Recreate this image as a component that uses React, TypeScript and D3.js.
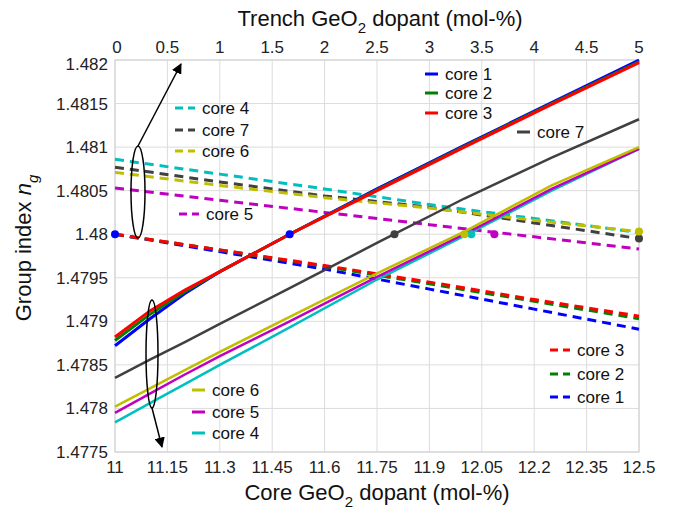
import React from "react";
import * as d3 from "d3";

const W = 676;
const H = 513;

const coreTicks = [11, 11.15, 11.3, 11.45, 11.6, 11.75, 11.9, 12.05, 12.2, 12.35, 12.5];
const trenchTicks = [0, 0.5, 1, 1.5, 2, 2.5, 3, 3.5, 4, 4.5, 5];
const yTicks = [1.4775, 1.478, 1.4785, 1.479, 1.4795, 1.48, 1.4805, 1.481, 1.4815, 1.482];

// solid curves: group index vs core GeO2
const coreX = [11, 11.1, 11.2, 11.3, 11.5, 11.75, 12, 12.25, 12.5];
const core1 = [1.47872, 1.47903, 1.47932, 1.47957, 1.48, 1.48052, 1.48102, 1.48151, 1.482];
const core2 = [1.47878, 1.47908, 1.47934, 1.47957, 1.48, 1.48051, 1.48101, 1.4815, 1.48198];
const core3 = [1.47882, 1.47912, 1.47936, 1.47957, 1.48, 1.4805, 1.481, 1.48149, 1.48197];
const core7 = [1.47835, 1.47856, 1.47876, 1.47897, 1.47938, 1.4799, 1.48041, 1.48088, 1.48132];
const core6 = [1.47802, 1.47823, 1.47844, 1.47865, 1.47905, 1.47955, 1.48003, 1.48056, 1.481];
const core5 = [1.47795, 1.47817, 1.47839, 1.4786, 1.479, 1.47951, 1.48, 1.48052, 1.48098];
const core4 = [1.47784, 1.47806, 1.47828, 1.4785, 1.47893, 1.47948, 1.47998, 1.4805, 1.48098];

// dashed curves: group index vs trench GeO2
const trenchX = [0, 1, 2, 3, 4, 5];
const trench4 = [1.48086, 1.48069, 1.48052, 1.48034, 1.48018, 1.48002];
const trench7 = [1.48077, 1.4806, 1.48044, 1.48031, 1.48013, 1.47995];
const trench6 = [1.48071, 1.48056, 1.48042, 1.4803, 1.48016, 1.48003];
const trench5 = [1.48053, 1.48039, 1.48025, 1.48011, 1.47997, 1.47983];
const trench3 = [1.48, 1.47982, 1.47964, 1.47945, 1.47925, 1.47906];
const trench2 = [1.48, 1.47982, 1.47963, 1.47943, 1.47923, 1.47903];
const trench1 = [1.48, 1.4798, 1.4796, 1.47937, 1.47914, 1.47891];

const C = {
  c1: "#0000ff",
  c2: "#008000",
  c3: "#ff0000",
  c4: "#00bfbf",
  c5: "#bf00bf",
  c6: "#bfbf00",
  c7: "#404040",
};

const solidSeries = [
  { name: "core 7", vals: core7, color: C.c7, w: 2.5 },
  { name: "core 4", vals: core4, color: C.c4, w: 2.5 },
  { name: "core 5", vals: core5, color: C.c5, w: 2.5 },
  { name: "core 6", vals: core6, color: C.c6, w: 2.5 },
  { name: "core 1", vals: core1, color: C.c1, w: 3 },
  { name: "core 2", vals: core2, color: C.c2, w: 3 },
  { name: "core 3", vals: core3, color: C.c3, w: 3 },
];

const dashedSeries = [
  { name: "core 5", vals: trench5, color: C.c5 },
  { name: "core 7", vals: trench7, color: C.c7 },
  { name: "core 4", vals: trench4, color: C.c4 },
  { name: "core 6", vals: trench6, color: C.c6 },
  { name: "core 1", vals: trench1, color: C.c1 },
  { name: "core 2", vals: trench2, color: C.c2 },
  { name: "core 3", vals: trench3, color: C.c3 },
];

// marked points: [axis, x, y, color]
const markers: [string, number, number, string][] = [
  ["t", 0, 1.48, C.c1],
  ["c", 11.5, 1.48, C.c1],
  ["c", 11.8, 1.48, C.c7],
  ["c", 12.02, 1.48, C.c4],
  ["c", 12.0, 1.48, C.c6],
  ["t", 3.62, 1.48, C.c5],
  ["t", 5, 1.47995, C.c7],
  ["t", 5, 1.48003, C.c6],
];

const left = 115;
const right = 639;
const top = 60;
const bottom = 452;

export default function App() {
  const xCore = d3.scaleLinear().domain([11, 12.5]).range([left, right]);
  const xTrench = d3.scaleLinear().domain([0, 5]).range([left, right]);
  const y = d3.scaleLinear().domain([1.4775, 1.482]).range([bottom, top]);

  const solidLine = d3
    .line<number>()
    .x((_, i) => xCore(coreX[i]))
    .y((d) => y(d));
  const dashLine = d3
    .line<number>()
    .x((_, i) => xTrench(trenchX[i]))
    .y((d) => y(d));

  const font = "Arial, 'Liberation Sans', sans-serif";

  const legendRow = (
    key: string,
    x: number,
    yy: number,
    color: string,
    label: string,
    dashed: boolean
  ) => (
    <g key={key}>
      {dashed ? (
        <line x1={x} x2={x + 20} y1={yy} y2={yy} stroke={color} strokeWidth={3} strokeDasharray="8,5" />
      ) : (
        <line x1={x} x2={x + 13} y1={yy} y2={yy} stroke={color} strokeWidth={3} />
      )}
      <text x={x + (dashed ? 27 : 20)} y={yy} dy="0.35em" fontSize={17} fill="#111">
        {label}
      </text>
    </g>
  );

  return (
    <svg
      width={W}
      height={H}
      style={{ position: "absolute", left: 0, top: 0, background: "#fff" }}
      fontFamily={font}
    >
      <defs>
        <marker id="arr" viewBox="0 0 10 10" refX="9" refY="5" markerWidth="7" markerHeight="7" orient="auto">
          <path d="M0,0 L10,5 L0,10 z" fill="#000" />
        </marker>
      </defs>

      {/* grid */}
      {coreTicks.map((t) => (
        <line key={"gx" + t} x1={xCore(t)} x2={xCore(t)} y1={top} y2={bottom} stroke="#dcdcdc" strokeWidth={1} />
      ))}
      {yTicks.map((t) => (
        <line key={"gy" + t} x1={left} x2={right} y1={y(t)} y2={y(t)} stroke="#dcdcdc" strokeWidth={1} />
      ))}
      <rect x={left} y={top} width={right - left} height={bottom - top} fill="none" stroke="#cfcfcf" />

      {/* dashed (trench) */}
      {dashedSeries.map((s) => (
        <path
          key={"d" + s.name}
          d={dashLine(s.vals) || ""}
          fill="none"
          stroke={s.color}
          strokeWidth={3}
          strokeDasharray="9,6"
        />
      ))}

      {/* solid (core) */}
      {solidSeries.map((s) => (
        <path key={"s" + s.name} d={solidLine(s.vals) || ""} fill="none" stroke={s.color} strokeWidth={s.w} />
      ))}

      {markers.map(([ax, mx, my, col], i) => (
        <circle key={"m" + i} cx={ax === "c" ? xCore(mx) : xTrench(mx)} cy={y(my)} r={4} fill={col} />
      ))}

      {/* ellipses and arrows */}
      <ellipse cx={138} cy={192} rx={7} ry={46} fill="none" stroke="#000" strokeWidth={1.5} />
      <line x1={138} y1={146} x2={181} y2={64} stroke="#000" strokeWidth={1.5} markerEnd="url(#arr)" />
      <ellipse cx={152} cy={354} rx={6} ry={54} fill="none" stroke="#000" strokeWidth={1.5} />
      <line x1={152} y1={408} x2={162} y2={447} stroke="#000" strokeWidth={1.5} markerEnd="url(#arr)" />

      {/* legends */}
      {legendRow("l4", 175, 108, C.c4, "core 4", true)}
      {legendRow("l7", 175, 130, C.c7, "core 7", true)}
      {legendRow("l6", 175, 151, C.c6, "core 6", true)}
      {legendRow("l5", 179, 214, C.c5, "core 5", true)}

      {legendRow("r1", 425, 74, C.c1, "core 1", false)}
      {legendRow("r2", 425, 93, C.c2, "core 2", false)}
      {legendRow("r3", 425, 113, C.c3, "core 3", false)}
      {legendRow("r7", 517, 132, C.c7, "core 7", false)}

      {legendRow("b3", 550, 350, C.c3, "core 3", true)}
      {legendRow("b2", 550, 374, C.c2, "core 2", true)}
      {legendRow("b1", 550, 397, C.c1, "core 1", true)}

      {legendRow("s6", 192, 390, C.c6, "core 6", false)}
      {legendRow("s5", 192, 412, C.c5, "core 5", false)}
      {legendRow("s4", 192, 433, C.c4, "core 4", false)}

      {/* tick labels */}
      {coreTicks.map((t) => (
        <text key={"bx" + t} x={xCore(t)} y={473} textAnchor="middle" fontSize={17} fill="#222">
          {t}
        </text>
      ))}
      {trenchTicks.map((t) => (
        <text key={"tx" + t} x={xTrench(t) + (t === 0 ? 2 : 0)} y={53} textAnchor="middle" fontSize={17} fill="#222">
          {t}
        </text>
      ))}
      {yTicks.map((t) => (
        <text key={"yt" + t} x={108} y={y(t)} dy={t === 1.482 ? "0.6em" : "0.35em"} textAnchor="end" fontSize={17} fill="#222">
          {t}
        </text>
      ))}

      {/* axis titles */}
      <text x={377} y={500} textAnchor="middle" fontSize={22} fill="#111">
        Core GeO<tspan fontSize={15} dy={7}>2</tspan>
        <tspan dy={-7}> dopant  (mol-%)</tspan>
      </text>
      <text x={380} y={26} textAnchor="middle" fontSize={22} fill="#111">
        Trench GeO<tspan fontSize={15} dy={7}>2</tspan>
        <tspan dy={-7}> dopant  (mol-%)</tspan>
      </text>
      <text transform="translate(31,248) rotate(-90)" textAnchor="middle" fontSize={22} fill="#111">
        Group index <tspan fontStyle="italic">n</tspan>
        <tspan fontSize={15} fontStyle="italic" dy={7}>g</tspan>
      </text>
    </svg>
  );
}
